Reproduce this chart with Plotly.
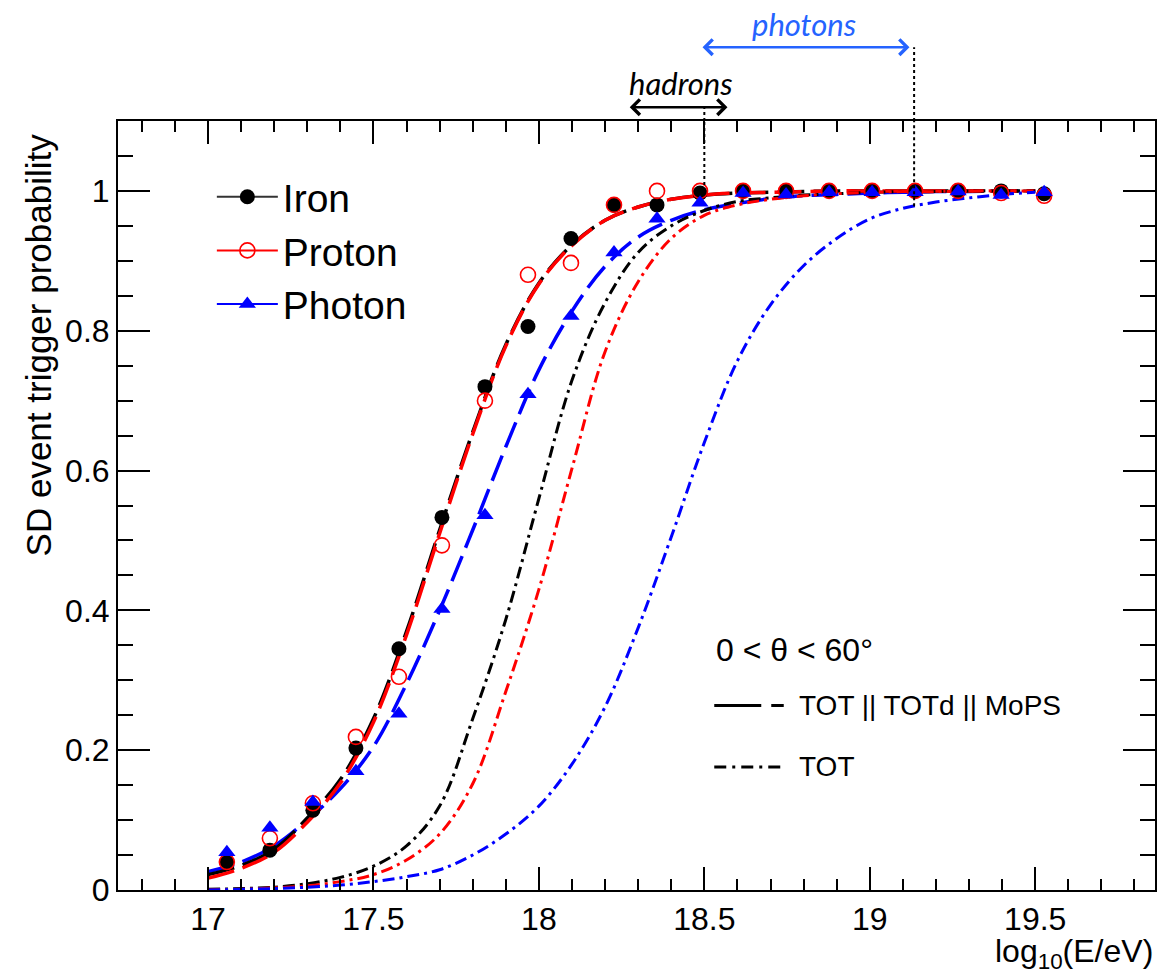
import plotly.graph_objects as go

# ---------------- data ----------------
E_POINTS = [17.057, 17.187, 17.317, 17.447, 17.577, 17.707, 17.837, 17.967, 18.097, 18.227,
            18.357, 18.487, 18.617, 18.747, 18.877, 19.007, 19.137, 19.267, 19.397, 19.527]
IRON = [0.040, 0.057, 0.114, 0.203, 0.345, 0.533, 0.720, 0.806, 0.932, 0.980,
        0.980, 0.997, 1.000, 1.000, 1.000, 1.000, 1.000, 1.000, 1.000, 0.996]
PROTON = [0.040, 0.074, 0.124, 0.219, 0.305, 0.493, 0.700, 0.880, 0.897, 0.980,
          1.000, 1.000, 1.000, 1.000, 1.000, 1.000, 1.000, 1.000, 0.997, 0.993]
PHOTON = [0.054, 0.089, 0.126, 0.170, 0.252, 0.402, 0.536, 0.709, 0.821, 0.912,
          0.960, 0.983, 0.997, 0.995, 0.998, 0.998, 0.998, 0.999, 0.994, 0.998]

E_CURVE = [17.0, 17.1, 17.2, 17.3, 17.4, 17.5, 17.6, 17.7, 17.8, 17.9, 18.0, 18.1, 18.2,
           18.3, 18.4, 18.5, 18.6, 18.7, 18.8, 18.9, 19.0, 19.1, 19.2, 19.3, 19.4, 19.5]
FIT_IRON = [0.022, 0.035, 0.058, 0.103, 0.158, 0.245, 0.370, 0.515, 0.655, 0.780, 0.868, 0.923, 0.958,
            0.977, 0.988, 0.994, 0.997, 0.998, 0.999, 1.000, 1.000, 1.000, 1.000, 1.000, 1.000, 1.000]
FIT_PROTON = [0.017, 0.031, 0.054, 0.097, 0.153, 0.240, 0.365, 0.510, 0.652, 0.778, 0.867, 0.922, 0.958,
              0.977, 0.988, 0.994, 0.997, 0.998, 0.999, 1.000, 1.000, 1.000, 1.000, 1.000, 1.000, 1.000]
FIT_PHOTON = [0.026, 0.040, 0.063, 0.100, 0.145, 0.205, 0.295, 0.400, 0.515, 0.634, 0.744, 0.828, 0.892,
              0.934, 0.958, 0.973, 0.982, 0.989, 0.993, 0.995, 0.997, 0.998, 0.999, 0.999, 1.000, 1.000]
TOT_IRON = [0.001, 0.002, 0.004, 0.009, 0.018, 0.034, 0.063, 0.120, 0.245, 0.387, 0.560, 0.729, 0.840,
            0.912, 0.950, 0.972, 0.985, 0.990, 0.994, 0.996, 0.998, 0.999, 0.999, 1.000, 1.000, 1.000]
TOT_PROTON = [0.000, 0.001, 0.003, 0.006, 0.012, 0.022, 0.043, 0.080, 0.152, 0.284, 0.430, 0.603, 0.770,
              0.870, 0.932, 0.965, 0.980, 0.988, 0.993, 0.996, 0.998, 0.999, 0.999, 1.000, 1.000, 1.000]
TOT_PHOTON = [0.000, 0.001, 0.002, 0.004, 0.007, 0.012, 0.019, 0.029, 0.050, 0.080, 0.120, 0.180, 0.262,
              0.375, 0.505, 0.640, 0.757, 0.837, 0.893, 0.932, 0.960, 0.975, 0.984, 0.990, 0.995, 0.998]

X_RANGE = [16.728, 19.862]
Y_RANGE = [0.0, 1.1]
X_TICKS = [17, 17.5, 18, 18.5, 19, 19.5]
Y_TICKS = [0, 0.2, 0.4, 0.6, 0.8, 1.0]

HADRON_RANGE = [18.27, 18.57]
PHOTON_RANGE = [18.49, 19.12]
HADRON_THRESHOLD = 18.5
PHOTON_THRESHOLD = 19.134
PHOTON_THRESHOLD_P = 0.978

BLACK, RED, BLUE = "#000000", "#ff0000", "#0000ff"
ARROW_BLUE = "#2563ff"
FONT = "Liberation Sans, Arial, Helvetica, sans-serif"
ITALIC_FONT = "Lato, Open Sans, sans-serif"

fig = go.Figure()

# fit curves (TOT || TOTd || MoPS), long dashes
for ys, c in [(FIT_PHOTON, BLUE), (FIT_IRON, BLACK), (FIT_PROTON, RED)]:
    fig.add_trace(go.Scatter(x=E_CURVE, y=ys, mode="lines",
                             line=dict(color=c, width=3.5, dash="27px,9px", shape="spline"),
                             showlegend=False, hoverinfo="skip"))
# TOT curves, dash-dot
for ys, c in [(TOT_IRON, BLACK), (TOT_PROTON, RED), (TOT_PHOTON, BLUE)]:
    fig.add_trace(go.Scatter(x=E_CURVE, y=ys, mode="lines",
                             line=dict(color=c, width=3, dash="12px,5px,3px,5px", shape="spline"),
                             showlegend=False, hoverinfo="skip"))

# data points
fig.add_trace(go.Scatter(x=E_POINTS, y=IRON, mode="markers", showlegend=False,
                         marker=dict(symbol="circle", size=15, color=BLACK)))
fig.add_trace(go.Scatter(x=E_POINTS, y=PROTON, mode="markers", showlegend=False,
                         marker=dict(symbol="circle-open", size=15, color=RED, line=dict(width=1.6))))
fig.add_trace(go.Scatter(x=E_POINTS, y=PHOTON, mode="markers", showlegend=False,
                         marker=dict(symbol="triangle-up", size=15, color=BLUE)))

# legend entries
fig.add_trace(go.Scatter(x=[None], y=[None], mode="lines+markers", name="Iron",
                         line=dict(color="#333333", width=2), marker=dict(symbol="circle", size=15, color=BLACK)))
fig.add_trace(go.Scatter(x=[None], y=[None], mode="lines+markers", name="Proton",
                         line=dict(color=RED, width=2),
                         marker=dict(symbol="circle-open", size=15, color=RED, line=dict(width=1.6))))
fig.add_trace(go.Scatter(x=[None], y=[None], mode="lines+markers", name="Photon",
                         line=dict(color=BLUE, width=2), marker=dict(symbol="triangle-up", size=15, color=BLUE)))

# threshold dotted lines
fig.add_shape(type="line", xref="x", yref="y", x0=HADRON_THRESHOLD, x1=HADRON_THRESHOLD, y0=1.0, y1=Y_RANGE[1],
              line=dict(color=BLACK, width=2, dash="dot"))
fig.add_shape(type="line", xref="x", yref="paper", x0=HADRON_THRESHOLD, x1=HADRON_THRESHOLD, y0=1.0, y1=1.018,
              line=dict(color=BLACK, width=2, dash="dot"))
fig.add_shape(type="line", xref="x", yref="y", x0=PHOTON_THRESHOLD, x1=PHOTON_THRESHOLD,
              y0=PHOTON_THRESHOLD_P, y1=Y_RANGE[1], line=dict(color=BLACK, width=2, dash="dot"))
fig.add_shape(type="line", xref="x", yref="paper", x0=PHOTON_THRESHOLD, x1=PHOTON_THRESHOLD, y0=1.0, y1=1.096,
              line=dict(color=BLACK, width=2, dash="dot"))

# range arrows
fig.add_annotation(x=HADRON_RANGE[1], y=1.018, ax=HADRON_RANGE[0], ay=0, xref="x", yref="paper",
                   axref="x", ayref="pixel", text="", showarrow=True, arrowhead=4, startarrowhead=4,
                   arrowside="end+start", arrowwidth=2.5, arrowsize=1.2, startarrowsize=1.2,
                   arrowcolor=BLACK, standoff=0, startstandoff=0)
fig.add_annotation(x=PHOTON_RANGE[1], y=1.096, ax=PHOTON_RANGE[0], ay=0, xref="x", yref="paper",
                   axref="x", ayref="pixel", text="", showarrow=True, arrowhead=4, startarrowhead=4,
                   arrowside="end+start", arrowwidth=2.5, arrowsize=1.2, startarrowsize=1.2,
                   arrowcolor=ARROW_BLUE, standoff=0, startstandoff=0)
fig.add_annotation(x=18.43, y=1.049, xref="x", yref="paper", xanchor="center", yanchor="middle",
                   text="<i>hadrons</i>", showarrow=False,
                   font=dict(family=ITALIC_FONT, size=31, color=BLACK))
fig.add_annotation(x=18.80, y=1.126, xref="x", yref="paper", xanchor="center", yanchor="middle",
                   text="<i>photons</i>", showarrow=False,
                   font=dict(family=ITALIC_FONT, size=31, color=ARROW_BLUE))

# angle + trigger legend
fig.add_annotation(x=18.53, y=0.343, xref="x", yref="y", xanchor="left", yanchor="middle",
                   text="0 < θ < 60°", showarrow=False, font=dict(family=FONT, size=32, color=BLACK))
fig.add_shape(type="line", xref="x", yref="y", x0=18.53, x1=18.74, y0=0.264, y1=0.264,
              line=dict(color=BLACK, width=3, dash="47px,10px,13px,40px"))
fig.add_annotation(x=18.78, y=0.264, xref="x", yref="y", xanchor="left", yanchor="middle",
                   text="TOT || TOTd || MoPS", showarrow=False, font=dict(family=FONT, size=28, color=BLACK))
fig.add_shape(type="line", xref="x", yref="y", x0=18.53, x1=18.74, y0=0.176, y1=0.176,
              line=dict(color=BLACK, width=3, dash="12px,6px,3px,6px"))
fig.add_annotation(x=18.78, y=0.176, xref="x", yref="y", xanchor="left", yanchor="middle",
                   text="TOT", showarrow=False, font=dict(family=FONT, size=28, color=BLACK))

# axis titles
fig.add_annotation(x=1.0, y=-0.112, xref="paper", yref="paper", xanchor="right", yanchor="bottom",
                   text="log<sub>10</sub>(E/eV)", showarrow=False, font=dict(family=FONT, size=32, color=BLACK))
fig.add_annotation(x=-0.077, y=0.986, xref="paper", yref="paper", xanchor="center", yanchor="top", textangle=-90,
                   text="SD event trigger probability", showarrow=False,
                   font=dict(family=FONT, size=35, color=BLACK))

fig.update_xaxes(range=X_RANGE, tickvals=X_TICKS, ticktext=[f"{v:g}" for v in X_TICKS],
                 ticks="inside", ticklen=23, tickwidth=2, tickcolor=BLACK,
                 minor=dict(dtick=0.1, tick0=17, ticks="inside", ticklen=11, tickwidth=2, tickcolor=BLACK,
                            showgrid=False),
                 showline=True, linecolor=BLACK, linewidth=2, mirror="allticks", showgrid=False, zeroline=False,
                 tickfont=dict(family=FONT, size=32, color=BLACK))
fig.update_yaxes(range=Y_RANGE, tickvals=Y_TICKS, ticktext=[f"{v:g}" for v in Y_TICKS],
                 ticks="inside", ticklen=32, tickwidth=2, tickcolor=BLACK,
                 minor=dict(dtick=0.05, tick0=0, ticks="inside", ticklen=15, tickwidth=2, tickcolor=BLACK,
                            showgrid=False),
                 showline=True, linecolor=BLACK, linewidth=2, mirror="allticks", showgrid=False, zeroline=False,
                 tickfont=dict(family=FONT, size=32, color=BLACK))

fig.update_layout(width=1160, height=977, margin=dict(l=118, r=3, t=121, b=87),
                  paper_bgcolor="white", plot_bgcolor="white", font=dict(family=FONT, color=BLACK),
                  legend=dict(x=0.0905, y=0.943, xanchor="left", yanchor="top", bgcolor="rgba(0,0,0,0)",
                              font=dict(family=FONT, size=39, color=BLACK), itemwidth=61, tracegroupgap=0))

fig.write_html("out.html")
